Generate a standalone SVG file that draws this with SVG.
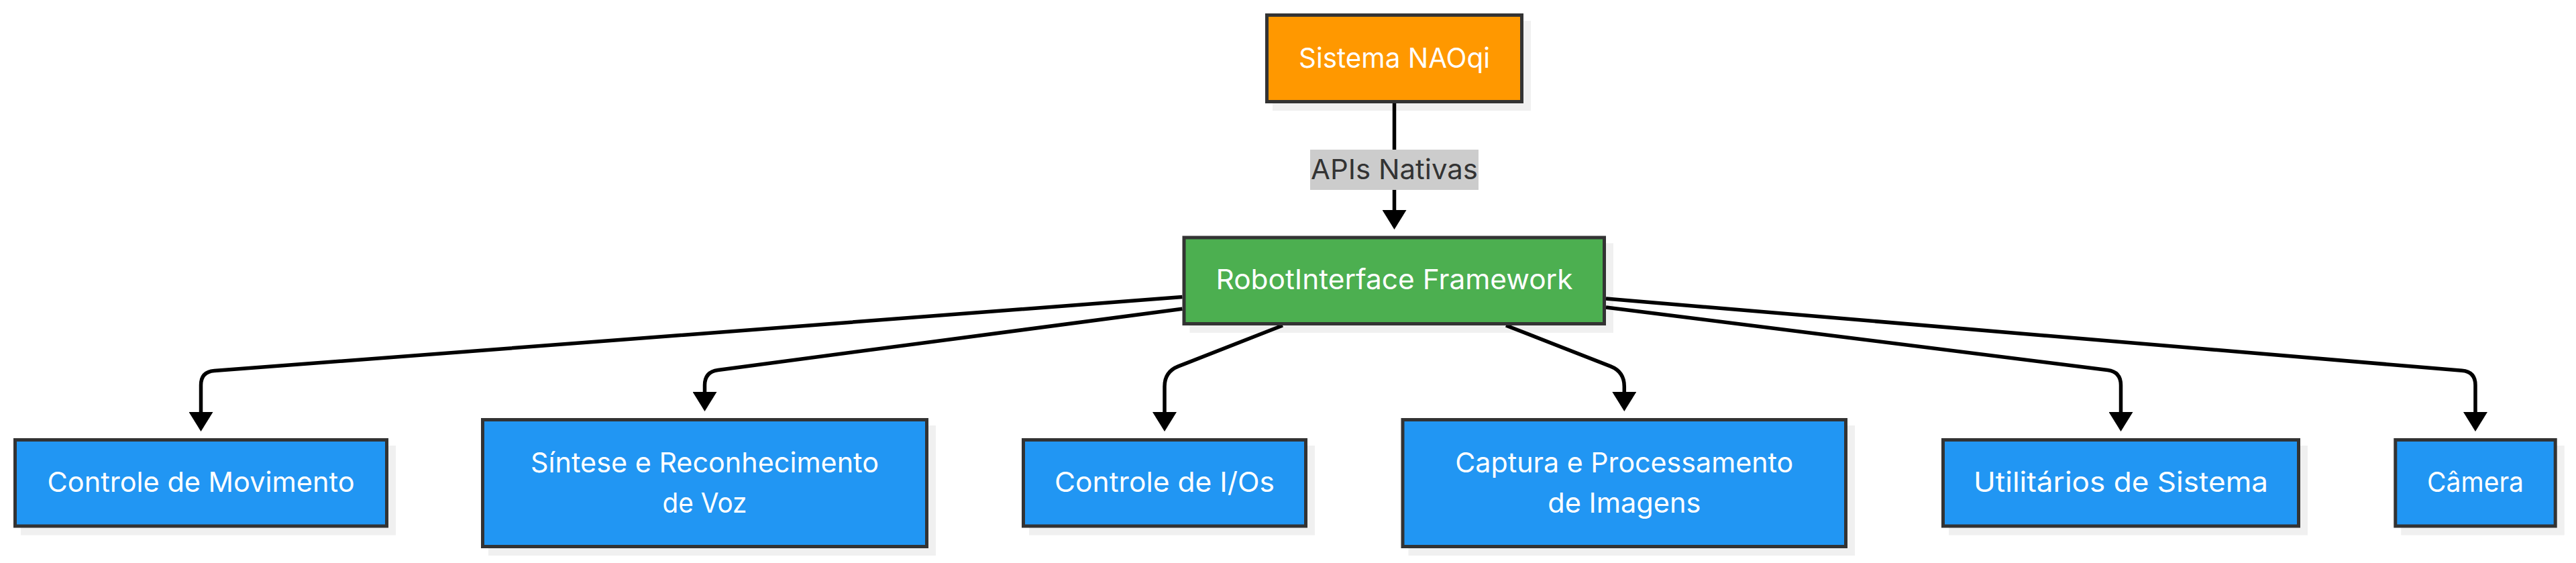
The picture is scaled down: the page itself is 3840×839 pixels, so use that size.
<svg xmlns="http://www.w3.org/2000/svg" width="3840" height="839" viewBox="0 0 3840 839">
<style>
.shadow{fill:#f0f0f0;stroke:none}
.box{stroke:#333333;stroke-width:5}
.orange{fill:#FF9800}
.green{fill:#4CAF50}
.blue{fill:#2196F3}
.t{font-family:Inter,"Liberation Sans",Arial,sans-serif;font-size:41px;fill:#ffffff;text-anchor:middle}
.edge{fill:none;stroke:#000000;stroke-width:5.5}
.lbg{fill:#cccccc}
.lt{font-family:Inter,"Liberation Sans",Arial,sans-serif;font-size:41px;fill:#333333;text-anchor:middle}
</style>
<defs>
<marker id="arr" viewBox="0 -18 29 36" refX="0" refY="0" markerWidth="29" markerHeight="36" markerUnits="userSpaceOnUse" orient="auto">
<path d="M0,-18 L29,0 L0,18 z" fill="#000000"/>
</marker>
</defs>
<rect width="3840" height="839" fill="#ffffff"/>

<g id="shadows">
<rect class="shadow" x="1897" y="31" width="385" height="134"/>
<rect class="shadow" x="1773.5" y="362.5" width="631.5" height="133.5"/>
<rect class="shadow" x="31" y="664" width="559" height="133.5"/>
<rect class="shadow" x="728" y="634" width="667" height="194"/>
<rect class="shadow" x="1534" y="664" width="426" height="133.5"/>
<rect class="shadow" x="2099.5" y="634" width="665.5" height="194"/>
<rect class="shadow" x="2905" y="664" width="535" height="133.5"/>
<rect class="shadow" x="3579.3" y="664" width="243.4" height="133.5"/>
</g>

<g id="connectors">
<path class="edge" d="M2078.5,154 L2078.5,313" marker-end="url(#arr)"/>
<path class="edge" d="M1762.5,442.6 L319.4,552.5 Q299.5,554 299.5,574 L299.5,614" marker-end="url(#arr)"/>
<path class="edge" d="M1762.5,460.2 L1070.3,551.4 Q1050.5,554 1050.5,574 L1050.5,584" marker-end="url(#arr)"/>
<path class="edge" d="M1912,485 L1756.5,545.9 Q1736,554 1736,576 L1736,614" marker-end="url(#arr)"/>
<path class="edge" d="M2245,485 L2400.8,545.9 Q2421.3,554 2421.3,576 L2421.3,584" marker-end="url(#arr)"/>
<path class="edge" d="M2394,458 L3141.7,551.5 Q3161.5,554 3161.5,574 L3161.5,614" marker-end="url(#arr)"/>
<path class="edge" d="M2394,445 L3670.1,552.3 Q3690,554 3690,574 L3690,614" marker-end="url(#arr)"/>
<g id="edge-label">
<rect class="lbg" x="1953" y="223" width="251" height="60"/>
<text class="lt" x="2078.5" y="267" textLength="249" lengthAdjust="spacingAndGlyphs">APIs Nativas</text>
</g>
</g>

<g id="naoqi">
<rect class="box orange" x="1888.5" y="22.5" width="380" height="129"/>
<text class="t" x="2078.5" y="101" textLength="285" lengthAdjust="spacingAndGlyphs">Sistema NAOqi</text>
</g>

<g id="framework">
<rect class="box green" x="1765" y="354" width="626.5" height="128.5"/>
<text class="t" x="2078.5" y="431" textLength="532" lengthAdjust="spacingAndGlyphs">RobotInterface Framework</text>
</g>

<g id="movimento">
<rect class="box blue" x="22.5" y="655.5" width="554" height="128.5"/>
<text class="t" x="299.5" y="733" textLength="458" lengthAdjust="spacingAndGlyphs">Controle de Movimento</text>
</g>

<g id="voz">
<rect class="box blue" x="719.5" y="625.5" width="662" height="189"/>
<text class="t" x="1050.5" y="703.5" textLength="519" lengthAdjust="spacingAndGlyphs">Síntese e Reconhecimento</text>
<text class="t" x="1050.5" y="763.5" textLength="126" lengthAdjust="spacingAndGlyphs">de Voz</text>
</g>

<g id="ios">
<rect class="box blue" x="1525.5" y="655.5" width="421" height="128.5"/>
<text class="t" x="1736" y="733" textLength="328" lengthAdjust="spacingAndGlyphs">Controle de I/Os</text>
</g>

<g id="imagens">
<rect class="box blue" x="2091" y="625.5" width="660.5" height="189"/>
<text class="t" x="2421.3" y="703.5" textLength="504" lengthAdjust="spacingAndGlyphs">Captura e Processamento</text>
<text class="t" x="2421.3" y="763.5" textLength="228" lengthAdjust="spacingAndGlyphs">de Imagens</text>
</g>

<g id="utilitarios">
<rect class="box blue" x="2896.5" y="655.5" width="530" height="128.5"/>
<text class="t" x="3161.5" y="733" textLength="439" lengthAdjust="spacingAndGlyphs">Utilitários de Sistema</text>
</g>

<g id="camera">
<rect class="box blue" x="3570.8" y="655.5" width="238.4" height="128.5"/>
<text class="t" x="3690" y="733" textLength="144" lengthAdjust="spacingAndGlyphs">Câmera</text>
</g>
</svg>
